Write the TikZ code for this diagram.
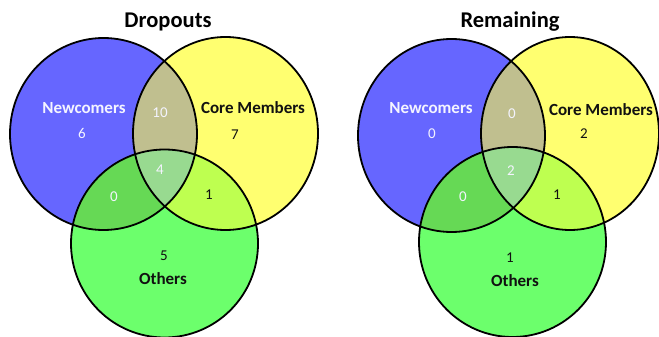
\documentclass[tikz,border=0pt]{standalone}
\usepackage{fontspec}
\setmainfont{Carlito}
\definecolor{cB}{HTML}{6666FF}
\definecolor{cY}{HTML}{FFFF70}
\definecolor{cG}{HTML}{6CFF6C}
\definecolor{cBY}{HTML}{C0BF8F}
\definecolor{cBG}{HTML}{66D955}
\definecolor{cYG}{HTML}{BEFF50}
\definecolor{cBYG}{HTML}{98DA90}
\definecolor{wtxt}{HTML}{F4F4FF}
\definecolor{btxt}{HTML}{111111}
\tikzset{
  pBL/.style={insert path={(103.5,134) ellipse [x radius=93.5,y radius=96]}},
  pYL/.style={insert path={(225.5,133.5) ellipse [x radius=92.5,y radius=96.5]}},
  pGL/.style={insert path={(164.5,243.5) ellipse [x radius=93.5,y radius=94]}},
  pBR/.style={insert path={(451.5,135.5) ellipse [x radius=93.5,y radius=96.5]}},
  pYR/.style={insert path={(570,133.5) ellipse [x radius=89,y radius=96.5]}},
  pGR/.style={insert path={(512.5,242) ellipse [x radius=93.5,y radius=95]}},
  outline/.style={draw=black,line width=1.8pt},
  titletxt/.style={font=\bfseries\fontsize{22.5}{26}\selectfont,text=black,inner sep=0pt},
  setw/.style={font=\bfseries\fontsize{17}{20}\selectfont,text=wtxt,inner sep=0pt},
  setb/.style={font=\bfseries\fontsize{17}{20}\selectfont,text=btxt,inner sep=0pt},
  numw/.style={font=\fontsize{15}{18}\selectfont,text=wtxt,inner sep=0pt},
  numb/.style={font=\fontsize{15}{18}\selectfont,text=btxt,inner sep=0pt}
}
\begin{document}
\begin{tikzpicture}[x=1pt,y=-1pt]
\useasboundingbox[fill=white] (0,0) rectangle (659,337);
% ---------- left diagram ----------
\fill[cB,pBL];
\fill[cY,pYL];
\fill[cG,pGL];
\begin{scope}\clip[pBL];\fill[cBY,pYL];\end{scope}
\begin{scope}\clip[pBL];\fill[cBG,pGL];\end{scope}
\begin{scope}\clip[pYL];\fill[cYG,pGL];\end{scope}
\begin{scope}\clip[pBL];\clip[pYL];\fill[cBYG,pGL];\end{scope}
\path[outline,pBL];
\path[outline,pYL];
\path[outline,pGL];
% ---------- right diagram ----------
\fill[cB,pBR];
\fill[cY,pYR];
\fill[cG,pGR];
\begin{scope}\clip[pBR];\fill[cBY,pYR];\end{scope}
\begin{scope}\clip[pBR];\fill[cBG,pGR];\end{scope}
\begin{scope}\clip[pYR];\fill[cYG,pGR];\end{scope}
\begin{scope}\clip[pBR];\clip[pYR];\fill[cBYG,pGR];\end{scope}
\path[outline,pBR];
\path[outline,pYR];
\path[outline,pGR];
% ---------- left texts ----------
\node[titletxt] (t1) at (168,22) {Dropouts};
\node[setw] (n1) at (84,108) {Newcomers};
\node[numw] (n1v) at (82,133) {6};
\node[numw] (ny1) at (160,113) {10};
\node[setb] (c1) at (253,108) {Core Members};
\node[numb] (c1v) at (235,135) {7};
\node[numw] (all1) at (160,170) {4};
\node[numw] (ng1) at (114,197) {0};
\node[numb] (cg1) at (209,195) {1};
\node[numb] (o1v) at (164,256) {5};
\node[setb] (o1) at (163,279) {Others};
% ---------- right texts ----------
\node[titletxt] (t2) at (510,22) {Remaining};
\node[setw] (n2) at (431,108) {Newcomers};
\node[numw] (n2v) at (432,134) {0};
\node[numw] (ny2) at (512,114) {0};
\node[setb] (c2) at (601,110) {Core Members};
\node[numb] (c2v) at (584,134) {2};
\node[numw] (all2) at (511,171) {2};
\node[numw] (ng2) at (463,197) {0};
\node[numb] (cg2) at (557,195) {1};
\node[numb] (o2v) at (510,258) {1};
\node[setb] (o2) at (515,281) {Others};
\end{tikzpicture}
\end{document}
